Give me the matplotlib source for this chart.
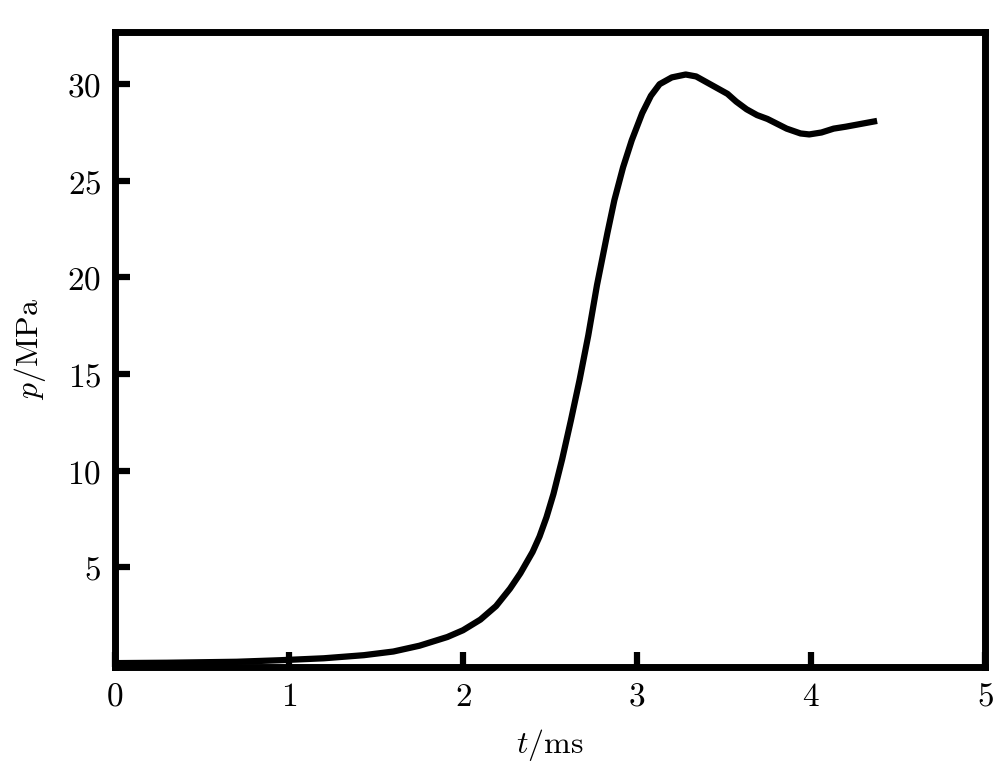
import matplotlib
matplotlib.use('Agg')
import matplotlib.pyplot as plt
import numpy as np

# pressure trace
t_ms = [0.0, 0.3, 0.7, 0.95, 1.2, 1.43, 1.6, 1.75, 1.91, 2.0, 2.1, 2.19, 2.27, 2.33,
        2.40, 2.44, 2.48, 2.52, 2.57, 2.62, 2.67, 2.72, 2.77, 2.83, 2.87, 2.92,
        2.97, 3.03, 3.08, 3.13, 3.20, 3.28, 3.34, 3.40, 3.46, 3.52, 3.57, 3.63,
        3.69, 3.75, 3.86, 3.94, 3.99, 4.06, 4.13, 4.20, 4.26, 4.32, 4.38]
p_mpa = [0.05, 0.07, 0.12, 0.2, 0.3, 0.46, 0.65, 0.95, 1.4, 1.75, 2.3, 3.0, 3.9, 4.7,
         5.8, 6.6, 7.6, 8.8, 10.6, 12.6, 14.7, 17.0, 19.6, 22.3, 24.0, 25.7,
         27.1, 28.5, 29.4, 30.0, 30.35, 30.5, 30.4, 30.1, 29.8, 29.5, 29.1, 28.7,
         28.4, 28.2, 27.7, 27.45, 27.4, 27.5, 27.7, 27.8, 27.9, 28.0, 28.1]

x_ticks = [0, 1, 2, 3, 4, 5]
y_ticks = [5, 10, 15, 20, 25, 30]

plt.rcParams['mathtext.fontset'] = 'cm'
plt.rcParams['font.family'] = 'serif'
plt.rcParams['font.serif'] = ['DejaVu Serif']

fig = plt.figure(figsize=(10.05, 7.8), dpi=100)
ax = fig.add_axes([0.1144, 0.1449, 0.8657, 0.8141])

ax.plot(t_ms, p_mpa, color='black', linewidth=4.5, solid_capstyle='butt',
        solid_joinstyle='round')

ax.set_xlim(0, 5)
ax.set_ylim(-0.15, 32.7)
ax.set_xticks(x_ticks)
ax.set_xticklabels([f'${v}$' for v in x_ticks])
ax.set_yticks(y_ticks)
ax.set_yticklabels([f'${v}$' for v in y_ticks])

for s in ax.spines.values():
    s.set_linewidth(5)
ax.tick_params(direction='in', length=11, width=4.5, labelsize=24, pad=10)

ax.set_xlabel(r'$t/\mathrm{ms}$', fontsize=23, labelpad=10)
ax.set_ylabel(r'$p/\mathrm{MPa}$', fontsize=23, labelpad=14)

plt.savefig('out.png', dpi=100)
